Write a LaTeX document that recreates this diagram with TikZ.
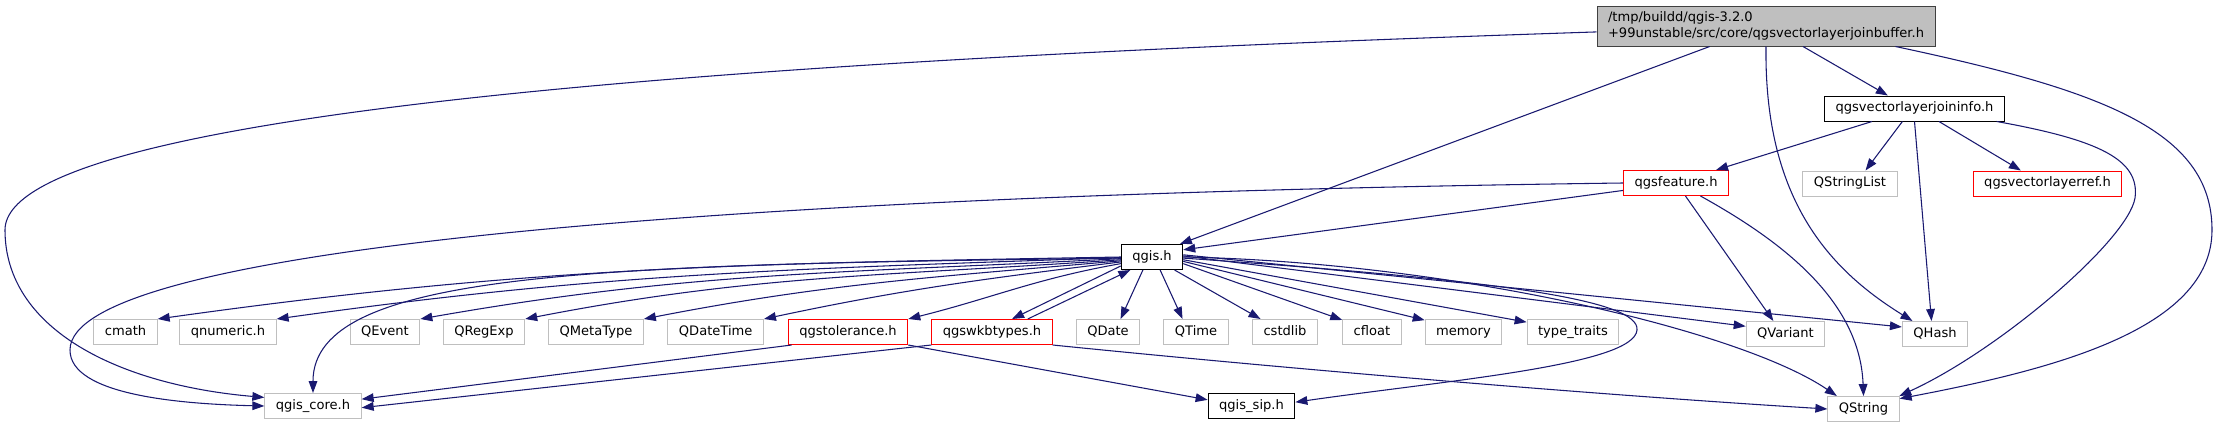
\documentclass[tikz,border=0pt]{standalone}
\usepackage{fontspec}
\setmainfont{DejaVu Sans}
\usetikzlibrary{arrows.meta}

\definecolor{edgeblue}{HTML}{191970}
\definecolor{mainfill}{HTML}{BFBFBF}
\definecolor{mainline}{HTML}{404040}
\definecolor{extline}{HTML}{BFBFBF}

\begin{document}
\begin{tikzpicture}[
    x=0.75pt, y=0.75pt,
    file/.style={rectangle, line width=0.75pt, fill=white, inner xsep=8.25pt, inner ysep=0pt, font=\fontsize{9.8pt}{11.5pt}\selectfont},
    box/.style={file, draw=black, minimum height=18.75pt, text height=7.3pt, text depth=2.2pt},
    mainbox/.style={file, draw=mainline, fill=mainfill, align=left, minimum height=30pt},
    redbox/.style={box, draw=red},
    extbox/.style={box, draw=extline},
    arrow/.style={-{Triangle[length=9pt, width=6.5pt]}, draw=edgeblue, line width=0.8pt}
  ]
    \useasboundingbox (0,0) rectangle (2213,-425);
    \node[mainbox] (main) at (1766,-26) {/tmp/buildd/qgis-3.2.0\\+99unstable/src/core/qgsvectorlayerjoinbuffer.h};
    \node[box] (joininfo) at (1914.5,-108.5) {qgsvectorlayerjoininfo.h};
    \node[redbox] (feature) at (1676,-183) {qgsfeature.h};
    \node[extbox] (strlist) at (1850,-183.5) {QStringList};
    \node[redbox] (layerref) at (2047.5,-183.5) {qgsvectorlayerref.h};
    \node[box] (qgis) at (1152,-257) {qgis.h};
    \node[extbox] (cmath) at (125.5,-332) {cmath};
    \node[extbox] (qnumeric) at (228,-332) {qnumeric.h};
    \node[extbox] (qevent) at (385,-332) {QEvent};
    \node[extbox] (qregexp) at (484,-332) {QRegExp};
    \node[extbox] (qmetatype) at (596,-332) {QMetaType};
    \node[extbox] (qdatetime) at (715.7,-332) {QDateTime};
    \node[redbox] (tolerance) at (848,-332) {qgstolerance.h};
    \node[redbox] (wkbtypes) at (992,-332) {qgswkbtypes.h};
    \node[extbox] (qdate) at (1108,-332) {QDate};
    \node[extbox] (qtime) at (1196,-332) {QTime};
    \node[extbox] (cstdlib) at (1285,-332) {cstdlib};
    \node[extbox] (cfloat) at (1372,-332) {cfloat};
    \node[extbox] (memory) at (1463.5,-332) {memory};
    \node[extbox] (typetraits) at (1573,-332) {type\_traits};
    \node[extbox] (qvariant) at (1785.5,-334) {QVariant};
    \node[extbox] (qhash) at (1935,-334) {QHash};
    \node[extbox] (core) at (313,-406) {qgis\_core.h};
    \node[box] (sip) at (1251.5,-406) {qgis\_sip.h};
    \node[extbox] (qstring) at (1863.5,-409) {QString};
    \draw[arrow] (main.182) .. controls (900,-55) and (5,-100) .. (5,-230) .. controls (5,-330) and (120,-385) .. (core.170);
    \draw[arrow] (main.200) -- (qgis.25);
    \draw[arrow] (main.south) .. controls (1764,-200) and (1830,-270) .. (qhash.150);
    \draw[arrow] (main.331) -- (joininfo.154);
    \draw[arrow] (main.351) .. controls (2100,-90) and (2212,-130) .. (2212,-230) .. controls (2212,-330) and (2050,-370) .. (qstring.16);
    \draw[arrow] (joininfo.197) -- (feature.18);
    \draw[arrow] (joininfo.227) -- (strlist.40);
    \draw[arrow] (joininfo.332) -- (layerref.154);
    \draw[arrow] (joininfo.south) -- (qhash.105);
    \draw[arrow] (joininfo.351) .. controls (2100,-140) and (2140,-160) .. (2135,-198) .. controls (2128,-240) and (2000,-350) .. (qstring.20);
    \draw[arrow] (feature.188) -- (qgis.13);
    \draw[arrow] (feature.306) -- (qvariant.133);
    \draw[arrow] (feature.332) .. controls (1780,-240) and (1860,-300) .. (qstring.north);
    \draw[arrow] (feature.west) .. controls (700,-195) and (70,-250) .. (70,-350) .. controls (70,-395) and (180,-404) .. (core.west);
    \draw[arrow] (qgis.180) to[out=181, in=8] (cmath.north east);
    \draw[arrow] (qgis.181) to[out=182, in=8] (qnumeric.north east);
    \draw[arrow] (qgis.182) .. controls (600,-265) and (313,-270) .. (core.north);
    \draw[arrow] (qgis.183) to[out=183, in=10] (qevent.north east);
    \draw[arrow] (qgis.185) to[out=184, in=11] (qregexp.north east);
    \draw[arrow] (qgis.187) to[out=185, in=11] (qmetatype.north east);
    \draw[arrow] (qgis.189) to[out=187, in=12] (qdatetime.north east);
    \draw[arrow] (qgis.192) to[out=190, in=14] (tolerance.north east);
    \draw[arrow] (qgis.196) -- (wkbtypes.33);
    \draw[arrow] (wkbtypes.20) -- (qgis.211);
    \draw[arrow] (qgis.235) -- (qdate.46);
    \draw[arrow] (qgis.302) -- (qtime.136);
    \draw[arrow] (qgis.330) -- (cstdlib.152);
    \draw[arrow] (qgis.348) -- (cfloat.158);
    \draw[arrow] (qgis.352) -- (memory.163);
    \draw[arrow] (qgis.355) -- (typetraits.168);
    \draw[arrow] (qgis.2) -- (qvariant.169);
    \draw[arrow] (qgis.4) -- (qhash.168);
    \draw[arrow] (qgis.0) .. controls (1450,-262) and (1740,-330) .. (qstring.154);
    \draw[arrow] (qgis.358) .. controls (1500,-280) and (1640,-300) .. (1637,-330) .. controls (1634,-365) and (1450,-380) .. (sip.5);
    \draw[arrow] (tolerance.193) -- (core.8);
    \draw[arrow] (tolerance.south east) -- (sip.172);
    \draw[arrow] (wkbtypes.south west) -- (core.358);
    \draw[arrow] (wkbtypes.south east) .. controls (1300,-370) and (1600,-395) .. (qstring.west);
\end{tikzpicture}
\end{document}
